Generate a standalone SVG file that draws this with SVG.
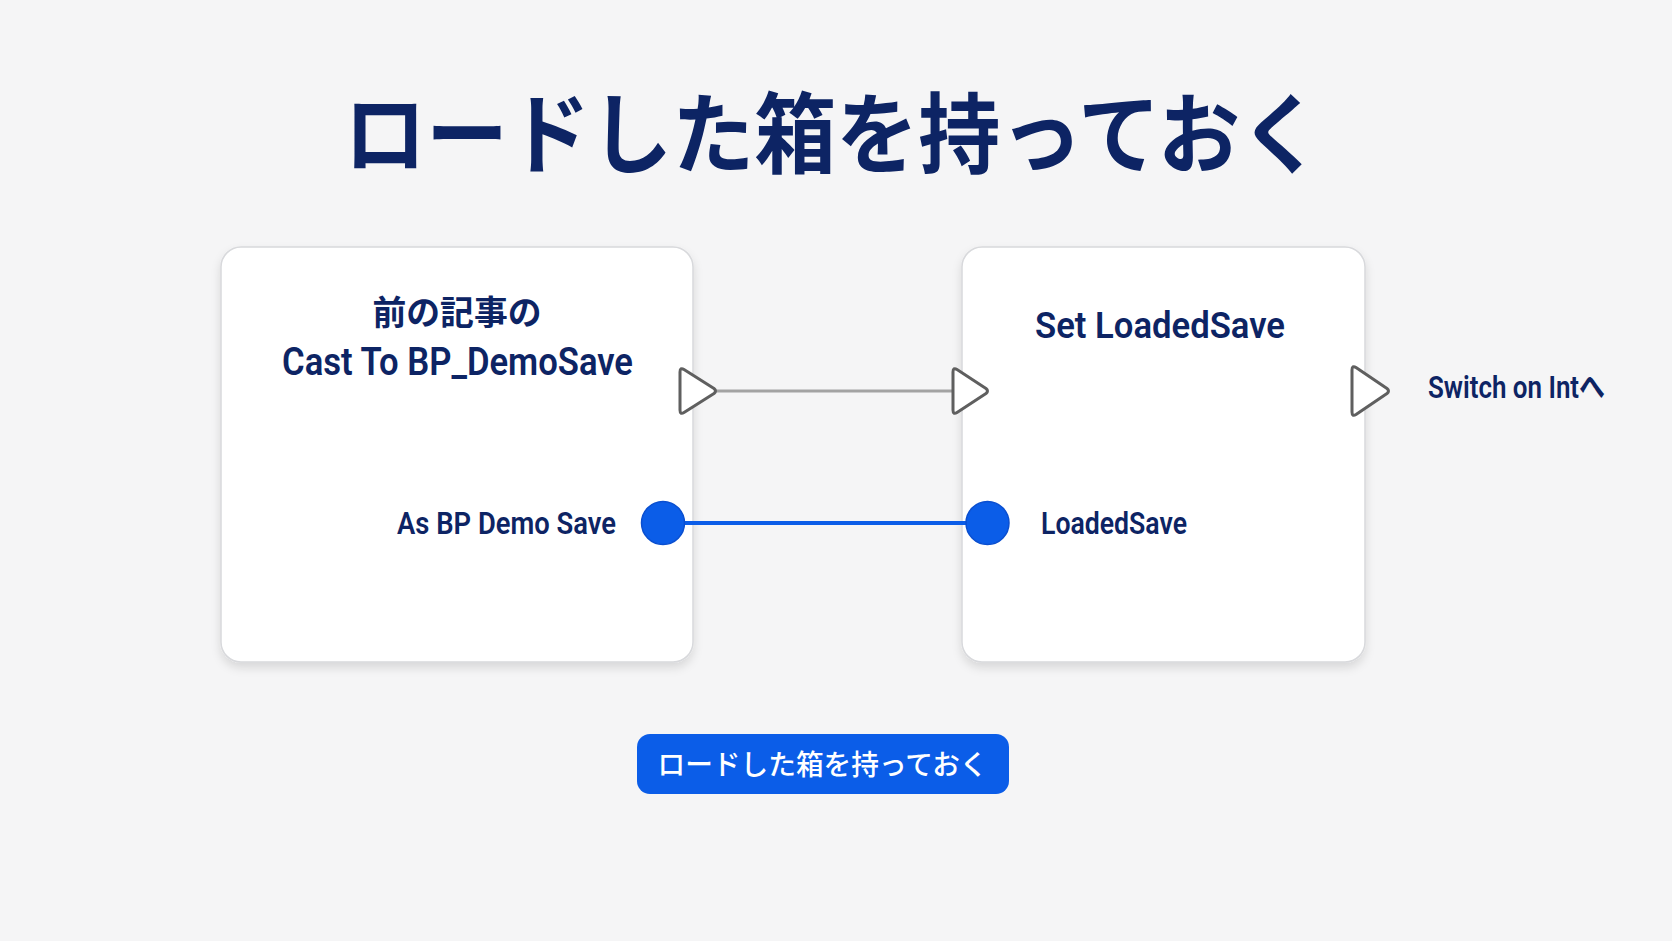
<svg xmlns="http://www.w3.org/2000/svg" width="1672" height="941" viewBox="0 0 1672 941">
<defs>
<style>
.t{font-family:Roboto,"Noto Sans CJK JP",sans-serif;fill:#0d2464;font-weight:600}
.j{font-family:"Noto Sans CJK JP",sans-serif;fill:#0d2464;font-weight:700}
.box{fill:#ffffff;stroke:#d8d9dc;stroke-width:1.5}
.exec{fill:#ffffff;stroke:#5f5f5f;stroke-width:3;stroke-linejoin:round}
.pin{fill:#0b5de8;stroke:#0a4fd0;stroke-width:1.5}
</style>
<filter id="sh" x="-10%" y="-10%" width="120%" height="125%">
<feDropShadow dx="0" dy="5" stdDeviation="5" flood-color="#000" flood-opacity="0.12"/>
</filter>
</defs>
<rect width="1672" height="941" fill="#f5f5f6"/>
<g id="title">
<text class="j" x="833" y="166" font-size="88" text-anchor="middle" textLength="978" lengthAdjust="spacingAndGlyphs">ロードした箱を持っておく</text>
</g>
<g id="node-cast">
<rect class="box" x="221" y="247" width="472" height="415" rx="20" filter="url(#sh)"/>
<text class="j" x="457" y="325" font-size="34" text-anchor="middle" textLength="169" lengthAdjust="spacingAndGlyphs">前の記事の</text>
<text class="t" x="457.5" y="375" font-size="38" text-anchor="middle" textLength="351" lengthAdjust="spacingAndGlyphs">Cast To BP_DemoSave</text>
<text class="t" x="616" y="534" font-size="31" text-anchor="end" textLength="219" lengthAdjust="spacingAndGlyphs">As BP Demo Save</text>
</g>
<g id="node-set">
<rect class="box" x="962" y="247" width="403" height="415" rx="20" filter="url(#sh)"/>
<text class="t" x="1160" y="338" font-size="37" text-anchor="middle" textLength="250" lengthAdjust="spacingAndGlyphs">Set LoadedSave</text>
<text class="t" x="1041" y="534" font-size="31" textLength="146" lengthAdjust="spacingAndGlyphs">LoadedSave</text>
</g>
<g id="connectors">
<line x1="716" y1="391" x2="952" y2="391" stroke="#a3a3a3" stroke-width="3"/>
<line x1="663" y1="523" x2="987" y2="523" stroke="#0b5de8" stroke-width="4"/>
</g>
<g id="pins">
<path class="exec" d="M680 372 Q680 367 684 369.5 L714 388.5 Q717 391 714 393.5 L684 412.5 Q680 415 680 410 Z"/>
<path class="exec" d="M953 372 Q953 367 957 369.5 L986 388.5 Q989 391 986 393.5 L957 412.5 Q953 415 953 410 Z"/>
<path class="exec" d="M1352 370 Q1352 365 1356 367.5 L1387 388.5 Q1390 391 1387 393.5 L1356 414.5 Q1352 417 1352 412 Z"/>
<circle class="pin" cx="663" cy="523" r="21.5"/>
<circle class="pin" cx="987.5" cy="523" r="21.5"/>
</g>
<g id="next-label">
<text class="t" x="1428" y="398" font-size="32" textLength="177" lengthAdjust="spacingAndGlyphs">Switch on Intへ</text>
</g>
<g id="badge">
<rect x="637" y="734" width="372" height="60" rx="13" fill="#0b5de8"/>
<text x="822.5" y="775" font-family="'Noto Sans CJK JP',sans-serif" font-weight="500" font-size="28" fill="#ffffff" text-anchor="middle" textLength="330" lengthAdjust="spacingAndGlyphs">ロードした箱を持っておく</text>
</g>
</svg>
